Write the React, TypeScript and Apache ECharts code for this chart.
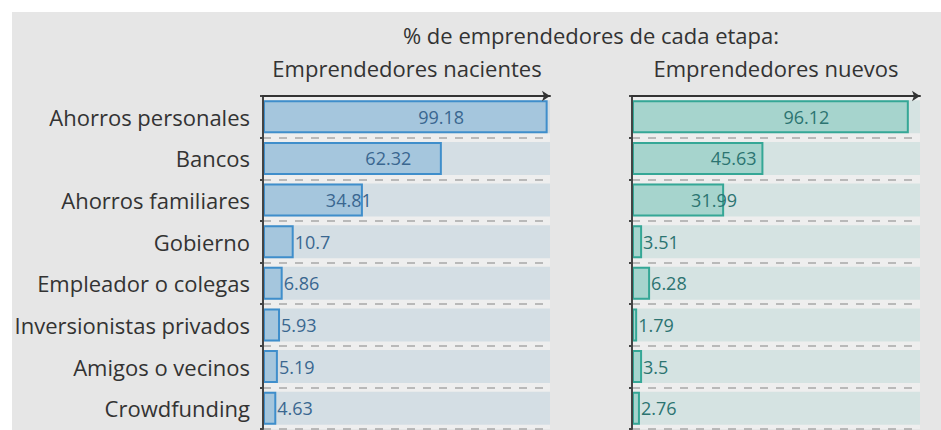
import React, { useEffect, useRef } from "react";
import * as echarts from "echarts";

const categories = [
  "Ahorros personales",
  "Bancos",
  "Ahorros familiares",
  "Gobierno",
  "Empleador o colegas",
  "Inversionistas privados",
  "Amigos o vecinos",
  "Crowdfunding",
];
const nacientes = [99.18, 62.32, 34.81, 10.7, 6.86, 5.93, 5.19, 4.63];
const nuevos = [96.12, 45.63, 31.99, 3.51, 6.28, 1.79, 3.5, 2.76];
const axisMax = 100;
const mainTitle = "% de emprendedores de cada etapa:";
const panelTitles = ["Emprendedores nacientes", "Emprendedores nuevos"];

const FONT = "Open Sans";
const VFONT = "Open Sans";

export default function App() {
  const ref = useRef<HTMLDivElement>(null);
  useEffect(() => {
    if (!ref.current) return;
    const chart = echarts.init(ref.current, undefined, { renderer: "svg" });
    const gridTop = 96;
    const gridH = 333;
    const grids = [
      { left: 263, width: 287 },
      { left: 632, width: 288 },
    ];
    const styles = [
      { fill: "#a5c6dd", border: "#3f8ecb", track: "#d4dee4", text: "#3a6790" },
      { fill: "#a6d4cd", border: "#35a796", track: "#d5e3e2", text: "#2c7471" },
    ];
    const mkData = (vals: number[], gi: number) => {
      const k = grids[gi].width / axisMax;
      return vals.map((v) => {
        if (v >= 20) {
          return {
            value: v,
            label: {
              position: [(v / 2 + 12.5) * k, "50%"],
              align: "center",
              verticalAlign: "middle",
            },
          };
        }
        return { value: v, label: { position: "right", distance: 1 } };
      });
    };
    const series: any[] = [];
    [nacientes, nuevos].forEach((vals, gi) => {
      const st = styles[gi];
      series.push({
        type: "bar",
        xAxisIndex: gi,
        yAxisIndex: gi,
        data: vals.map(() => axisMax),
        barWidth: 33,
        barGap: "-100%",
        itemStyle: { color: st.track },
        silent: true,
        z: 1,
      });
      series.push({
        type: "bar",
        xAxisIndex: gi,
        yAxisIndex: gi,
        data: mkData(vals, gi),
        barWidth: 33,
        barGap: "-100%",
        itemStyle: { color: st.fill, borderColor: st.border, borderWidth: 2 },
        label: {
          show: true,
          color: st.text,
          fontSize: 18,
          fontFamily: VFONT,
        },
        z: 3,
      });
    });
    const txt = (text: string, x: number, y: number) => ({
      type: "text",
      x,
      y,
      style: {
        text,
        fontSize: 22,
        fontFamily: FONT,
        fill: "#333",
        align: "center",
        verticalAlign: "middle",
      },
    });
    chart.setOption({
      animation: false,
      backgroundColor: "#ffffff",
      graphic: [
        {
          type: "rect",
          z: -10,
          shape: { x: 12, y: 12, width: 929, height: 418 },
          style: { fill: "#e6e6e6" },
        },
        txt(mainTitle, 591, 35),
        txt(panelTitles[0], 407, 68),
        txt(panelTitles[1], 776, 68),
      ],
      grid: grids.map((g) => ({
        left: g.left,
        width: g.width,
        top: gridTop,
        height: gridH,
        show: true,
        backgroundColor: "#eeeeee",
        borderWidth: 0,
      })),
      xAxis: grids.map((_, gi) => ({
        type: "value",
        gridIndex: gi,
        position: "top",
        min: 0,
        max: axisMax,
        z: 6,
        axisLine: {
          show: true,
          symbol: ["none", "arrow"],
          symbolSize: [8, 8],
          lineStyle: { color: "#333", width: 2 },
        },
        axisTick: { show: false },
        axisLabel: { show: false },
        splitLine: { show: false },
      })),
      yAxis: grids.map((_, gi) => ({
        type: "category",
        gridIndex: gi,
        data: categories,
        inverse: true,
        axisLine: { show: true, lineStyle: { color: "#444", width: 2 } },
        axisTick: { show: true, length: 3, lineStyle: { color: "#444", width: 2 } },
        axisLabel: {
          show: gi === 0,
          fontSize: 22,
          fontFamily: FONT,
          color: "#333",
          margin: 13,
        },
        splitLine: {
          show: true,
          lineStyle: { type: [8, 8], color: "#a8a8a8", width: 1.5 },
        },
        z: 4,
      })),
      series,
    });
    return () => chart.dispose();
  }, []);
  return (
    <div
      ref={ref}
      style={{ position: "fixed", left: 0, top: 0, width: 941, height: 430 }}
    />
  );
}
